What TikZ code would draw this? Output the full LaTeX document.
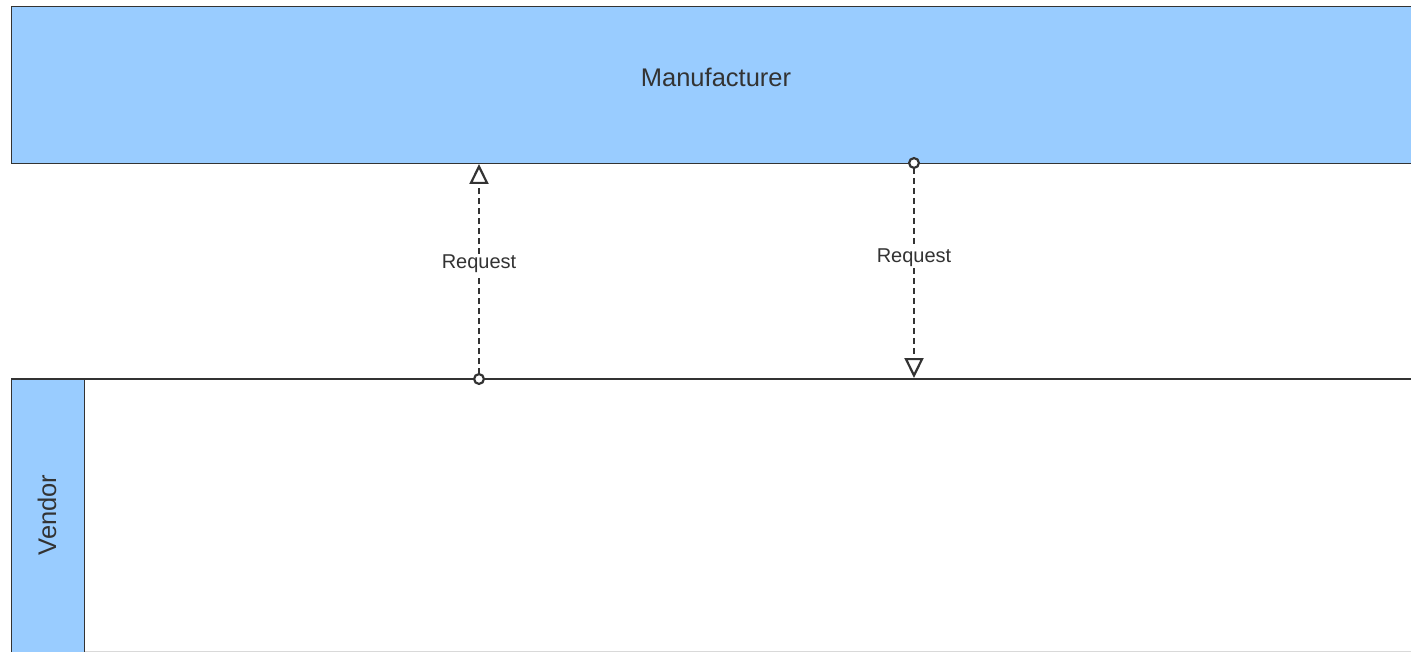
\documentclass[tikz,border=0pt]{standalone}
\usepackage{fontspec}
\setmainfont{Liberation Sans}
\usetikzlibrary{arrows.meta}
\definecolor{laneblue}{HTML}{99CCFF}
\definecolor{edgegray}{HTML}{333333}
\definecolor{textgray}{HTML}{333333}
\begin{document}
\begin{tikzpicture}[x=1pt,y=-1pt,
  pool/.style={fill=laneblue, draw=edgegray, line width=1.4pt, inner sep=0pt, anchor=north west},
  title/.style={text=textgray, font=\fontsize{25.5}{30}\selectfont},
  msglabel/.style={text=textgray, fill=white, inner sep=1.5pt, font=\fontsize{20}{24}\selectfont},
  msg/.style={draw=edgegray, line width=2.2pt, dash pattern=on 6pt off 4pt,
    {Circle[open, fill=white, length=12pt, width=12pt]}-{Triangle[open, fill=white, length=20pt, width=19pt]}}]
\useasboundingbox (0,0) rectangle (1411,652);
\fill[white] (0,0) rectangle (1411,652);
\clip (0,0) rectangle (1411,652);

% Manufacturer pool
\node[pool, minimum width=1420pt, minimum height=157pt] (manu) at (11,6) {};
\node[title] (manutext) at (716,77) {Manufacturer};

% Vendor pool: lane border and label strip
\draw[edgegray, line width=1.4pt] (11,379) -- (1420,379);
\draw[black!15, line width=1pt] (84,651) -- (1420,651);
\node[pool, minimum width=73pt, minimum height=300pt] (vendor) at (11,379) {};
\node[title, rotate=90] (vendortext) at (47,515) {Vendor};

% Message flow endpoints
\coordinate (m1from) at (479,385);
\coordinate (m1to) at (479,164);
\coordinate (m2from) at (914,157);
\coordinate (m2to) at (914,378);

% Message flows
\draw[msg] (m1from) -- (m1to);
\node[msglabel] (m1label) at (479,264) {Request};
\draw[msg] (m2from) -- (m2to);
\node[msglabel] (m2label) at (914,258) {Request};
\end{tikzpicture}
\end{document}
